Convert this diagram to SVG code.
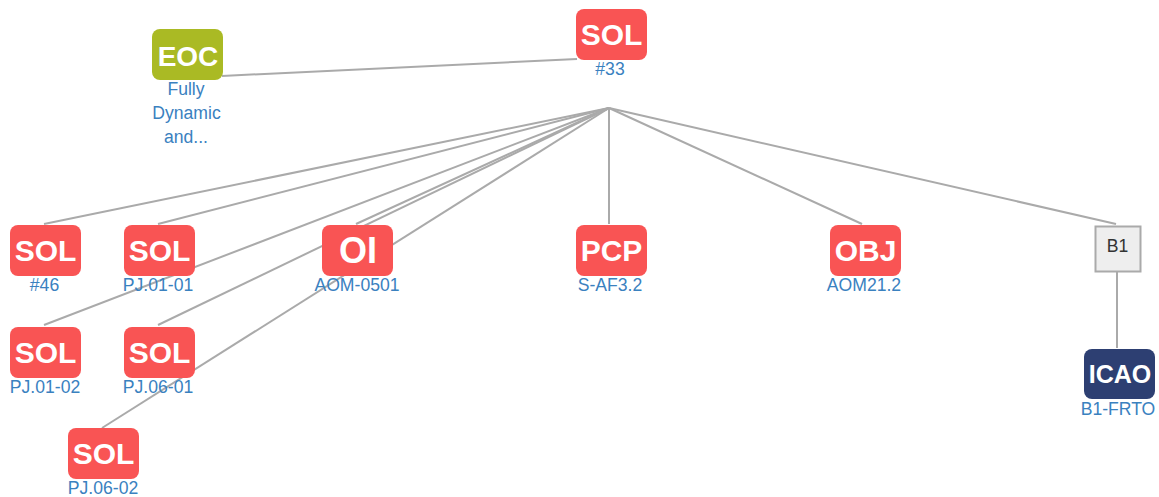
<svg xmlns="http://www.w3.org/2000/svg" width="1159" height="497" viewBox="0 0 1159 497">
<style>
text{font-family:"Liberation Sans",Arial,sans-serif;text-anchor:middle}
.c line{stroke:#aaa;stroke-width:2;fill:none}
.r{fill:#f95454}.e{fill:#aaba24}.i{fill:#2d3f72}
.t{fill:#fff;font-weight:bold;font-size:30px}
.l{fill:#3a81bf;font-size:17.6px}
</style>
<g id="connectors" class="c">
<line x1="222" y1="76" x2="577" y2="59"/>
<line x1="609" y1="108" x2="44" y2="224"/>
<line x1="609" y1="108" x2="158" y2="224"/>
<line x1="609" y1="108" x2="44" y2="325"/>
<line x1="609" y1="108" x2="158" y2="325"/>
<line x1="609" y1="108" x2="102" y2="428"/>
<line x1="609" y1="108" x2="356" y2="224"/>
<line x1="609" y1="108" x2="609" y2="224"/>
<line x1="609" y1="108" x2="862" y2="224"/>
<line x1="609" y1="108" x2="1116" y2="224"/>
<line x1="1117" y1="272" x2="1117" y2="348"/>
</g>
<g id="n-eoc"><rect class="e" x="152" y="29" width="71" height="51" rx="8"/><text class="t" x="188" y="66" style="font-size:28px">EOC</text><text class="l" x="186" y="95">Fully</text><text class="l" x="186.500" y="119">Dynamic</text><text class="l" x="186" y="143">and...</text></g>
<g id="n-sol33"><rect class="r" x="576" y="9" width="71" height="51" rx="8"/><text class="t" x="611.500" y="44.500">SOL</text><text class="l" x="610" y="75">#33</text></g>
<g id="n-sol46"><rect class="r" x="10" y="225" width="71" height="51" rx="8"/><text class="t" x="45.500" y="260.500">SOL</text><text class="l" x="44.500" y="291">#46</text></g>
<g id="n-pj0101"><rect class="r" x="124" y="225" width="71" height="51" rx="8"/><text class="t" x="159.500" y="260.500">SOL</text><text class="l" x="158" y="291">PJ.01-01</text></g>
<g id="n-oi"><rect class="r" x="322" y="225" width="71" height="51" rx="8"/><text class="t" x="358" y="263" style="font-size:36px">OI</text><text class="l" x="357" y="291">AOM-0501</text></g>
<g id="n-pcp"><rect class="r" x="576" y="225" width="71" height="51" rx="8"/><text class="t" x="611.500" y="260.500">PCP</text><text class="l" x="610" y="291">S-AF3.2</text></g>
<g id="n-obj"><rect class="r" x="830" y="225" width="71" height="51" rx="8"/><text class="t" x="865.500" y="260.500">OBJ</text><text class="l" x="864" y="291">AOM21.2</text></g>
<g id="n-b1"><rect x="1095.500" y="226.500" width="45" height="45" fill="#eee" stroke="#aaa" stroke-width="2"/><text x="1117.500" y="252" font-size="17.6" fill="#333">B1</text></g>
<g id="n-icao"><rect class="i" x="1084" y="349" width="71" height="50" rx="8"/><text class="t" x="1120" y="383" style="font-size:25px">ICAO</text><text class="l" x="1118" y="415">B1-FRTO</text></g>
<g id="n-pj0102"><rect class="r" x="10" y="327" width="71" height="51" rx="8"/><text class="t" x="45.500" y="362.500">SOL</text><text class="l" x="45" y="393">PJ.01-02</text></g>
<g id="n-pj0601"><rect class="r" x="124" y="327" width="71" height="51" rx="8"/><text class="t" x="159.500" y="362.500">SOL</text><text class="l" x="158" y="393">PJ.06-01</text></g>
<g id="n-pj0602"><rect class="r" x="68" y="428" width="71" height="51" rx="8"/><text class="t" x="103.500" y="463.500">SOL</text><text class="l" x="103" y="494">PJ.06-02</text></g>
</svg>
